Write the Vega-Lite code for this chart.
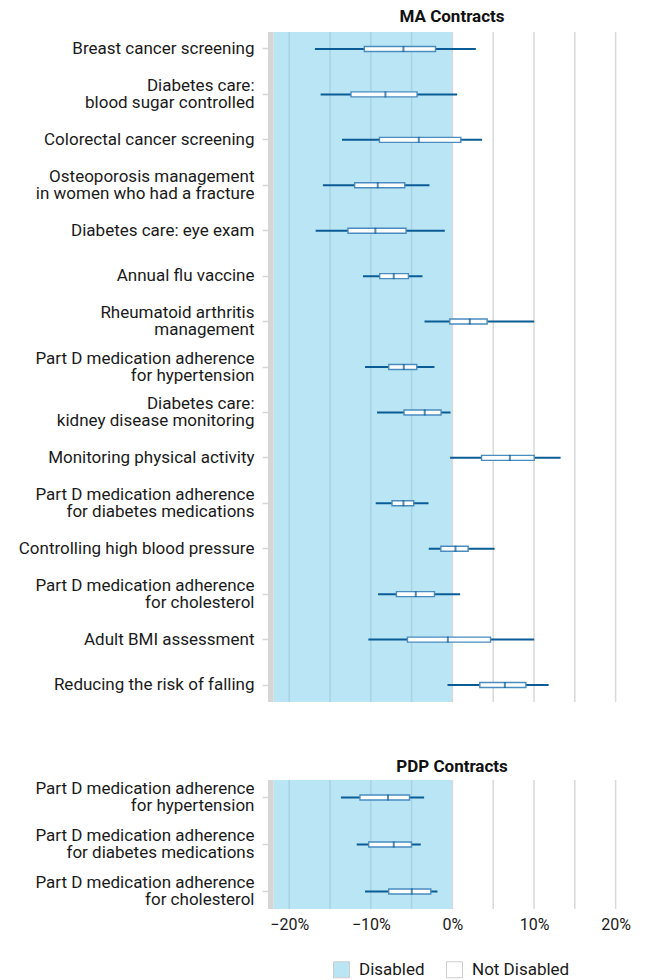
{
  "$schema": "https://vega.github.io/schema/vega-lite/v6.json",
  "padding": {"left": 18, "top": 8, "right": 5, "bottom": 5},
  "datasets": {
    "strip": [{"x0": -22.6, "x1": -21.9}],
    "bg": [
      {"status": "Disabled", "x0": -21.9, "x1": 0},
      {"status": "Not Disabled", "x0": 0, "x1": 22.5}
    ],
    "grid": [{"v": -20}, {"v": -15}, {"v": -10}, {"v": -5}, {"v": 0}, {"v": 5}, {"v": 10}, {"v": 15}, {"v": 20}],
    "ma": [
      {"m": "Breast cancer screening", "min": -16.85, "q1": -10.8, "med": -6.0, "q3": -2.07, "max": 2.87},
      {"m": "Diabetes care:|blood sugar controlled", "min": -16.15, "q1": -12.43, "med": -8.21, "q3": -4.33, "max": 0.58},
      {"m": "Colorectal cancer screening", "min": -13.53, "q1": -8.94, "med": -4.12, "q3": 1.03, "max": 3.64},
      {"m": "Osteoporosis management|in women who had a fracture", "min": -15.87, "q1": -11.98, "med": -9.15, "q3": -5.84, "max": -2.81},
      {"m": "Diabetes care: eye exam", "min": -16.76, "q1": -12.8, "med": -9.44, "q3": -5.68, "max": -0.93},
      {"m": "Annual flu vaccine", "min": -10.96, "q1": -8.91, "med": -7.19, "q3": -5.39, "max": -3.67},
      {"m": "Rheumatoid arthritis|management", "min": -3.42, "q1": -0.32, "med": 2.13, "q3": 4.26, "max": 10.02},
      {"m": "Part D medication adherence|for hypertension", "min": -10.71, "q1": -7.8, "med": -5.96, "q3": -4.37, "max": -2.2},
      {"m": "Diabetes care:|kidney disease monitoring", "min": -9.24, "q1": -5.93, "med": -3.39, "q3": -1.39, "max": -0.23},
      {"m": "Monitoring physical activity", "min": -0.28, "q1": 3.57, "med": 7.04, "q3": 10.02, "max": 13.26},
      {"m": "Part D medication adherence|for diabetes medications ", "min": -9.4, "q1": -7.4, "med": -6.0, "q3": -4.74, "max": -2.93},
      {"m": "Controlling high blood pressure", "min": -2.9, "q1": -1.42, "med": 0.38, "q3": 1.93, "max": 5.17},
      {"m": "Part D medication adherence|for cholesterol", "min": -9.11, "q1": -6.86, "med": -4.49, "q3": -2.2, "max": 0.95},
      {"m": "Adult BMI assessment", "min": -10.3, "q1": -5.51, "med": -0.56, "q3": 4.67, "max": 10.02},
      {"m": "Reducing the risk of falling", "min": -0.6, "q1": 3.36, "med": 6.43, "q3": 9.01, "max": 11.79}
    ],
    "pdp": [
      {"m": "Part D medication adherence|for hypertension", "min": -13.66, "q1": -11.33, "med": -7.89, "q3": -5.26, "max": -3.47},
      {"m": "Part D medication adherence|for diabetes medications ", "min": -11.73, "q1": -10.26, "med": -7.19, "q3": -5.02, "max": -3.88},
      {"m": "Part D medication adherence|for cholesterol", "min": -10.71, "q1": -7.8, "med": -4.98, "q3": -2.65, "max": -1.83}
    ]
  },
  "spacing": 55,
  "vconcat": [
    {
      "title": {"text": "MA Contracts", "offset": 5},
      "width": 368,
      "height": 670,
      "layer": [
        {
          "data": {"name": "strip"},
          "mark": {"type": "rect", "color": "#d6d6d6"},
          "encoding": {
            "x": {"field": "x0", "type": "quantitative", "scale": {"domain": [-22.6, 22.5], "nice": false, "zero": false}, "axis": null},
            "x2": {"field": "x1"}
          }
        },
        {
          "data": {"name": "bg"},
          "mark": {"type": "rect"},
          "encoding": {
            "x": {"field": "x0", "type": "quantitative", "axis": null},
            "x2": {"field": "x1"},
            "fill": {"field": "status", "type": "nominal", "scale": {"domain": ["Disabled", "Not Disabled"], "range": ["#b9e5f5", "#ffffff"]}, "legend": {"title": null, "orient": "none", "legendX": 65, "legendY": 929, "direction": "horizontal"}}
          }
        },
        {
          "data": {"name": "grid"},
          "mark": {"type": "rule", "strokeWidth": 1.5},
          "encoding": {
            "x": {"field": "v", "type": "quantitative", "axis": null},
            "color": {"condition": {"test": "datum.v < 0", "value": "#a7d3e3"}, "value": "#d9d9d9"}
          }
        },
        {
          "data": {"name": "ma"},
          "mark": {"type": "rule", "color": "#0a5c96", "strokeWidth": 2},
          "encoding": {
            "y": {"field": "m", "type": "nominal", "sort": null, "title": null, "scale": {"paddingInner": 0.5, "paddingOuter": 0.124}},
            "x": {"field": "min", "type": "quantitative", "axis": null},
            "x2": {"field": "max"}
          }
        },
        {
          "data": {"name": "ma"},
          "mark": {"type": "bar", "fill": "#ffffff", "stroke": "#4a8cc0", "strokeWidth": 1.4, "size": 5},
          "encoding": {
            "y": {"field": "m", "type": "nominal", "sort": null, "title": null},
            "x": {"field": "q1", "type": "quantitative", "axis": null},
            "x2": {"field": "q3"}
          }
        },
        {
          "data": {"name": "ma"},
          "mark": {"type": "tick", "color": "#0a5c96", "thickness": 2, "size": 6},
          "encoding": {
            "y": {"field": "m", "type": "nominal", "sort": null, "title": null},
            "x": {"field": "med", "type": "quantitative", "axis": null}
          }
        }
      ]
    },
    {
      "title": {"text": "PDP Contracts", "offset": 3},
      "width": 368,
      "height": 129,
      "encoding": {
        "x": {"type": "quantitative", "scale": {"domain": [-22.6, 22.5], "nice": false, "zero": false},
          "axis": {"values": [-20, -10, 0, 10, 20], "format": "d", "labelExpr": "datum.label + '%'", "grid": false, "ticks": false, "domain": false, "labelFontSize": 16, "labelPadding": 7, "labelColor": "#1a1a1a", "title": null}}
      },
      "layer": [
        {
          "data": {"name": "strip"},
          "mark": {"type": "rect", "color": "#d6d6d6"},
          "encoding": {
            "x": {"field": "x0"},
            "x2": {"field": "x1"}
          }
        },
        {
          "data": {"name": "bg"},
          "mark": {"type": "rect"},
          "encoding": {
            "x": {"field": "x0"},
            "x2": {"field": "x1"},
            "fill": {"field": "status", "type": "nominal", "scale": {"domain": ["Disabled", "Not Disabled"], "range": ["#b9e5f5", "#ffffff"]}, "legend": {"title": null, "orient": "none", "legendX": 65, "legendY": 929, "direction": "horizontal"}}
          }
        },
        {
          "data": {"name": "grid"},
          "mark": {"type": "rule", "strokeWidth": 1.5},
          "encoding": {
            "x": {"field": "v"},
            "color": {"condition": {"test": "datum.v < 0", "value": "#a7d3e3"}, "value": "#d9d9d9"}
          }
        },
        {
          "data": {"name": "pdp"},
          "mark": {"type": "rule", "color": "#0a5c96", "strokeWidth": 2},
          "encoding": {
            "y": {"field": "m", "type": "nominal", "sort": null, "title": null, "scale": {"paddingInner": 0.5, "paddingOuter": 0.124}},
            "x": {"field": "min"},
            "x2": {"field": "max"}
          }
        },
        {
          "data": {"name": "pdp"},
          "mark": {"type": "bar", "fill": "#ffffff", "stroke": "#4a8cc0", "strokeWidth": 1.4, "size": 5},
          "encoding": {
            "y": {"field": "m", "type": "nominal", "sort": null, "title": null},
            "x": {"field": "q1"},
            "x2": {"field": "q3"}
          }
        },
        {
          "data": {"name": "pdp"},
          "mark": {"type": "tick", "color": "#0a5c96", "thickness": 2, "size": 6},
          "encoding": {
            "y": {"field": "m", "type": "nominal", "sort": null, "title": null},
            "x": {"field": "med"}
          }
        }
      ]
    }
  ],
  "config": {
    "font": "Roboto",
    "view": {"stroke": null},
    "title": {"fontSize": 17, "fontWeight": "bold", "color": "#111111", "anchor": "middle"},
    "axisY": {"domain": false, "grid": false, "tickColor": "#d6d6d6", "tickSize": 6, "tickWidth": 1.5, "labelPadding": 8, "labelFontSize": 17, "labelColor": "#1a1a1a", "labelLimit": 0, "labelLineHeight": 17, "labelExpr": "split(datum.label, '|')",
      "labelOffset": {"condition": {"test": "indexof(datum.value, '|') >= 0", "value": -8.5}, "value": 0}},
    "legend": {"symbolType": "square", "symbolSize": 256, "symbolStrokeColor": "#cccccc", "symbolStrokeWidth": 1, "labelFontSize": 17, "labelColor": "#1a1a1a", "columnPadding": 19, "labelOffset": 9}
  }
}
